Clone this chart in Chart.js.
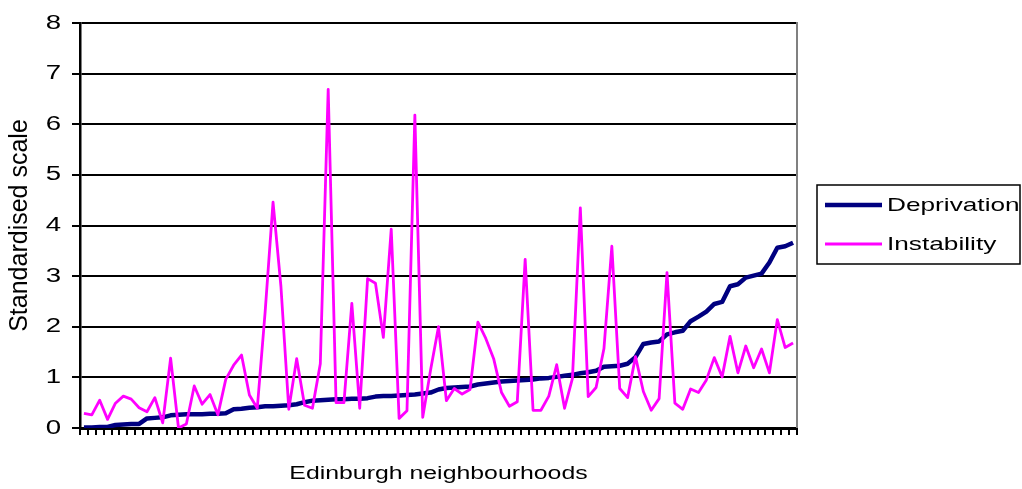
<!DOCTYPE html>
<html>
<head>
<meta charset="utf-8">
<title>Deprivation and instability</title>
<script src="https://cdn.jsdelivr.net/npm/chart.js@4.4.1/dist/chart.umd.min.js"></script>
<style>
  html, body { margin: 0; padding: 0; background: #fff; }
</style>
</head>
<body>
<canvas id="myChart" width="1022" height="489"></canvas>
<script>
// dades llegides del grafic (91 barris, ordenats per privacio)
const deprivation = [
    0.01, 0.01, 0.02, 0.02, 0.06, 0.07, 0.08, 0.08, 0.19, 0.20,
    0.21, 0.25, 0.26, 0.27, 0.27, 0.27, 0.28, 0.28, 0.29, 0.37,
    0.38, 0.40, 0.41, 0.43, 0.43, 0.44, 0.45, 0.47, 0.51, 0.54,
    0.55, 0.56, 0.57, 0.57, 0.58, 0.58, 0.59, 0.62, 0.63, 0.63,
    0.64, 0.65, 0.66, 0.68, 0.70, 0.76, 0.79, 0.80, 0.81, 0.82,
    0.86, 0.88, 0.90, 0.92, 0.93, 0.94, 0.95, 0.96, 0.98, 0.99,
    1.01, 1.03, 1.05, 1.08, 1.10, 1.13, 1.21, 1.22, 1.23, 1.27,
    1.40, 1.66, 1.69, 1.71, 1.85, 1.89, 1.92, 2.11, 2.20, 2.30,
    2.45, 2.49, 2.80, 2.84, 2.97, 3.01, 3.05, 3.27, 3.56, 3.59,
    3.66
];
const instability = [
    0.29, 0.26, 0.55, 0.17, 0.49, 0.63, 0.57, 0.40, 0.32, 0.60,
    0.10, 1.38, 0.00, 0.08, 0.83, 0.47, 0.66, 0.26, 0.96, 1.24,
    1.44, 0.65, 0.39, 2.30, 4.46, 2.80, 0.37, 1.37, 0.45, 0.39,
    1.27, 6.69, 0.50, 0.50, 2.46, 0.39, 2.95, 2.86, 1.79, 3.93,
    0.19, 0.34, 6.18, 0.21, 1.15, 2.00, 0.54, 0.78, 0.67, 0.76,
    2.09, 1.77, 1.37, 0.70, 0.43, 0.52, 3.33, 0.35, 0.35, 0.63,
    1.25, 0.39, 0.98, 4.35, 0.62, 0.80, 1.57, 3.59, 0.78, 0.60,
    1.41, 0.72, 0.35, 0.58, 3.07, 0.49, 0.37, 0.77, 0.70, 0.95,
    1.39, 1.01, 1.81, 1.09, 1.62, 1.19, 1.56, 1.09, 2.14, 1.59,
    1.68
];
// els barris no tenen nom al grafic, nomes una marca
const neighbourhoods = deprivation.map((_, i) => 'Barri ' + (i + 1));
const seriesNames = ['Deprivation', 'Instability'];
const seriesColors = ['#000080', '#ff00ff'];
const yMin = 0;
const yMax = 8;
const yTitle = 'Standardised scale';
const xTitle = 'Edinburgh neighbourhoods';

const FONT = '"Liberation Sans", Arial, Helvetica, sans-serif';
// el text de l'original es mes ample que alt
const TEXT_STRETCH = 1.38;

// estirem el text horitzontal (el text girat es queda igual)
const stretchText = {
    id: 'stretchText',
    beforeInit: (chart) => {
        const ctx = chart.ctx;
        const fill = ctx.fillText;
        ctx.fillText = function (text, x, y, maxWidth) {
            const m = this.getTransform();
            if (Math.abs(m.b) > 0.01) {
                return maxWidth === undefined ? fill.call(this, text, x, y) : fill.call(this, text, x, y, maxWidth);
            }
            this.save();
            this.translate(x, y);
            this.scale(TEXT_STRETCH, 1);
            if (maxWidth === undefined) {
                fill.call(this, text, 0, 0);
            } else {
                fill.call(this, text, 0, 0, maxWidth / TEXT_STRETCH);
            }
            this.restore();
        };
    }
};

// llegenda amb caixa i vora dreta grisa de l'area del grafic
const boxLegend = {
    id: 'boxLegend',
    afterDraw: (chart) => {
        const ctx = chart.ctx;
        const area = chart.chartArea;
        ctx.save();
        ctx.strokeStyle = '#808080';
        ctx.lineWidth = 2;
        ctx.beginPath();
        ctx.moveTo(area.right, area.top - 1);
        ctx.lineTo(area.right, area.bottom);
        ctx.stroke();

        ctx.strokeStyle = '#000';
        ctx.lineWidth = 1.5;
        ctx.strokeRect(817, 185, 203, 79);

        const rows = [205, 244];
        ctx.font = '19px ' + FONT;
        ctx.textBaseline = 'middle';
        ctx.textAlign = 'left';
        chart.data.datasets.forEach((ds, i) => {
            ctx.strokeStyle = ds.borderColor;
            ctx.lineWidth = ds.borderWidth;
            ctx.beginPath();
            ctx.moveTo(825, rows[i]);
            ctx.lineTo(882, rows[i]);
            ctx.stroke();
            ctx.fillStyle = '#000';
            ctx.fillText(ds.label, 887, rows[i] + 1);
        });
        ctx.restore();
    }
};

const myChart = () => {
    const ctx = document.getElementById('myChart').getContext('2d');
    return new Chart(ctx, {
        type: 'line',
        data: {
            labels: neighbourhoods,
            datasets: [{
                label: seriesNames[0],
                data: deprivation,
                borderColor: seriesColors[0],
                borderWidth: 4.5,
                pointRadius: 0,
                borderJoinStyle: 'round',
                tension: 0,
                fill: false,
                order: 2
            }, {
                label: seriesNames[1],
                data: instability,
                borderColor: seriesColors[1],
                borderWidth: 2.8,
                pointRadius: 0,
                borderJoinStyle: 'round',
                tension: 0,
                fill: false,
                order: 1
            }]
        },
        options: {
            responsive: false,
            animation: false,
            layout: { padding: { left: 0, right: 225, top: 22, bottom: 0 } },
            plugins: {
                legend: { display: false },
                tooltip: { enabled: false }
            },
            scales: {
                x: {
                    offset: true,
                    grid: {
                        offset: true,
                        drawOnChartArea: false,
                        drawTicks: true,
                        tickLength: 7,
                        color: '#000',
                        lineWidth: 2
                    },
                    border: { display: true, color: '#000', width: 3 },
                    ticks: { display: false },
                    title: {
                        display: true,
                        text: xTitle,
                        color: '#000',
                        font: { family: FONT, size: 18 },
                        padding: { top: 0, bottom: 4 }
                    },
                    afterFit: (scale) => { scale.height = 61; }
                },
                y: {
                    min: yMin,
                    max: yMax,
                    grid: {
                        color: '#000',
                        lineWidth: 2,
                        drawTicks: true,
                        tickLength: 8
                    },
                    border: { display: true, color: '#000', width: 2.5 },
                    ticks: {
                        stepSize: 1,
                        color: '#000',
                        padding: 11,
                        font: { family: FONT, size: 20 }
                    },
                    title: {
                        display: true,
                        text: yTitle,
                        color: '#000',
                        font: { family: FONT, size: 25 },
                        padding: { top: 5, bottom: 0 }
                    },
                    afterFit: (scale) => { scale.width = 80; }
                }
            }
        },
        plugins: [stretchText, boxLegend]
    });
};

myChart();
</script>
</body>
</html>
